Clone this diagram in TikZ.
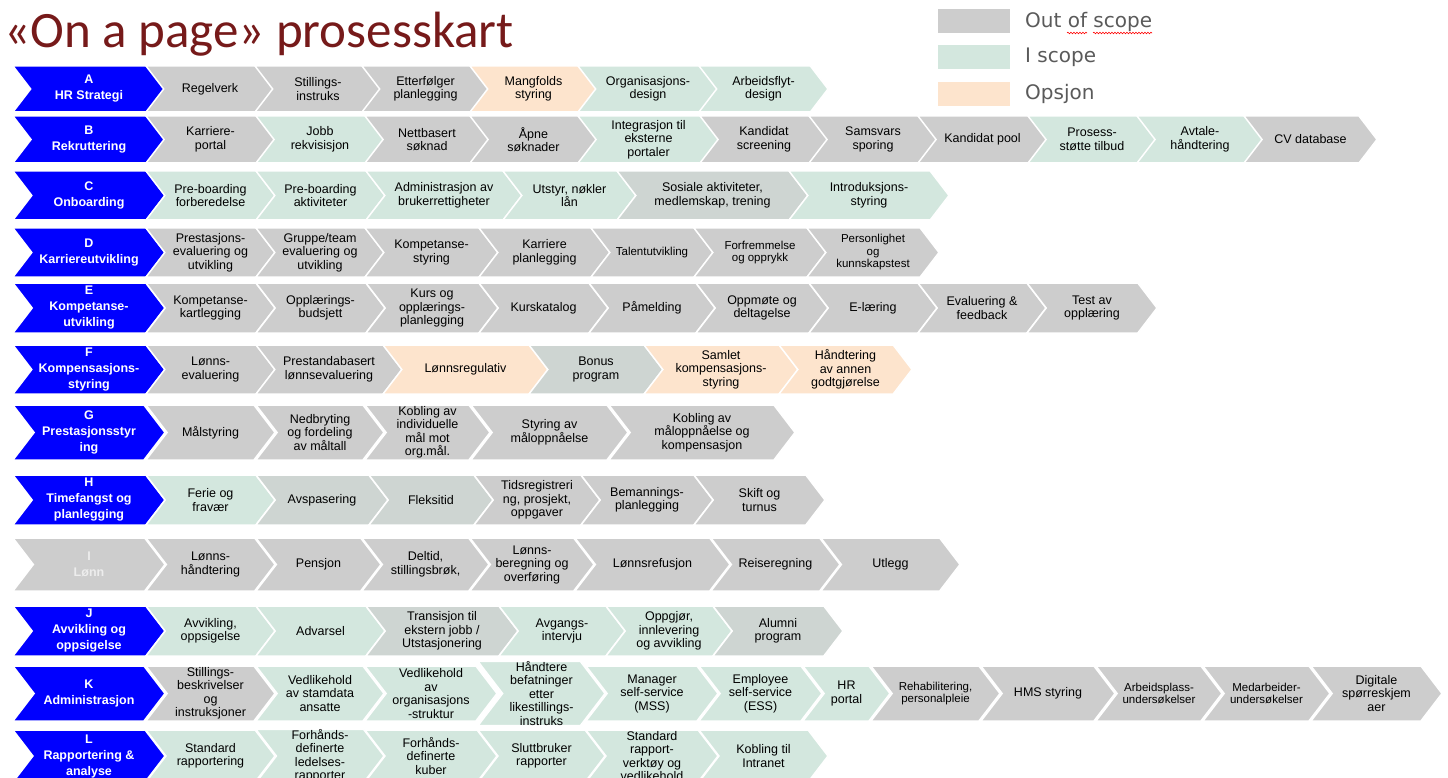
\documentclass[tikz,border=0pt]{standalone}
\usepackage{fontspec}
\setmainfont{Liberation Sans}
\newfontfamily\titlefont{Carlito}
\newfontfamily\legendfont{DejaVu Sans}
\usetikzlibrary{shapes.symbols,decorations.pathmorphing}

\definecolor{hrblue}{RGB}{0,0,255}
\definecolor{outgray}{RGB}{205,205,205}
\definecolor{ingreen}{RGB}{211,231,222}
\definecolor{opspeach}{RGB}{253,228,205}
\definecolor{mixgray}{RGB}{206,213,210}
\definecolor{titlered}{RGB}{118,26,26}
\definecolor{legendgray}{RGB}{90,90,90}

\tikzset{
  chev/.style={signal, signal from=west, signal to=east, signal pointer angle=105,
    draw=white, line width=1.5pt, inner sep=0pt, align=center, text=black,
    font=\fontsize{12.5}{13.5}\selectfont},
  hdr/.style={chev, fill=hrblue, text=white, minimum width=152,
    font=\fontsize{12.5}{16}\selectfont\bfseries},
  outs/.style={chev, fill=outgray},
  ins/.style={chev, fill=ingreen},
  ops/.style={chev, fill=opspeach},
  mix/.style={chev, fill=mixgray},
  smalltxt/.style={font=\fontsize{11.5}{12.5}\selectfont},
  swatch/.style={rectangle, minimum width=72, minimum height=24, inner sep=0pt},
  legtxt/.style={anchor=base west, text=legendgray, inner sep=0pt,
    font=\legendfont\fontsize{20}{24}\selectfont},
}

\begin{document}
\begin{tikzpicture}[x=1pt, y=-1pt]
\useasboundingbox (0,0) rectangle (1448,778);
\clip (0,0) rectangle (1448,778);

% title and legend
\node[anchor=base west, inner sep=0pt, text=titlered, font=\titlefont\fontsize{51}{51}\selectfont] (title) at (4,48) {«On a page» prosesskart};
\node[swatch, fill=outgray] (sw1) at (974,21) {};
\node[swatch, fill=ingreen] (sw2) at (974,57) {};
\node[swatch, fill=opspeach] (sw3) at (974,94.5) {};
\node[legtxt] (lg1) at (1025,27.5) {Out of scope};
\node[legtxt] (lg2) at (1025,63) {I scope};
\node[legtxt] (lg3) at (1025,100) {Opsjon};
\draw[red, line width=0.6pt, decorate, decoration={snake, amplitude=0.8pt, segment length=3pt}] (1067,33) -- (1087,33);
\draw[red, line width=0.6pt, decorate, decoration={snake, amplitude=0.8pt, segment length=3pt}] (1093,33) -- (1152,33);

% A HR Strategi
\begin{scope}[minimum height=46]
\node[hdr] (hA) at (89,89) {A\\HR Strategi};
\node[outs, minimum width=128] (a1) at (210,89) {Regelverk};
\node[outs, minimum width=126] (a2) at (318,89) {Stillings-\\instruks};
\node[outs, minimum width=127] (a3) at (425.5,89) {Etterfølger\\planlegging};
\node[ops, minimum width=127] (a4) at (533.5,89) {Mangfolds\\styring};
\node[ins, minimum width=140] (a5) at (648,89) {Organisasjons-\\design};
\node[ins, minimum width=129] (a6) at (763.5,89) {Arbeidsflyt-\\design};
\end{scope}

% B Rekruttering
\begin{scope}[minimum height=47]
\node[hdr] (hB) at (89,139.5) {B\\Rekruttering};
\node[outs, minimum width=129] (b1) at (210.5,139.5) {Karriere-\\portal};
\node[ins, minimum width=128] (b2) at (320,139.5) {Jobb\\rekvisisjon};
\node[outs, minimum width=124] (b3) at (427,139.5) {Nettbasert\\søknad};
\node[outs, minimum width=127] (b4) at (533.5,139.5) {Åpne\\søknader};
\node[ins, minimum width=141] (b5) at (648.5,139.5) {Integrasjon til\\eksterne\\portaler};
\node[outs, minimum width=128] (b6) at (764,139.5) {Kandidat\\screening};
\node[outs, minimum width=128] (b7) at (873,139.5) {Samsvars\\sporing};
\node[outs, minimum width=129] (b8) at (982.5,139.5) {Kandidat pool};
\node[ins, minimum width=128] (b9) at (1092,139.5) {Prosess-\\støtte tilbud};
\node[ins, minimum width=126] (b10) at (1200,139.5) {Avtale-\\håndtering};
\node[outs, minimum width=133] (b11) at (1310.5,139.5) {CV database};
\end{scope}

% C Onboarding
\begin{scope}[minimum height=49]
\node[hdr] (hC) at (89,195.5) {C\\Onboarding};
\node[ins, minimum width=129] (c1) at (210.5,195.5) {Pre-boarding\\forberedelse};
\node[ins, minimum width=129] (c2) at (320.5,195.5) {Pre-boarding\\aktiviteter};
\node[ins, minimum width=156] (c3) at (444,195.5) {Administrasjon av\\brukerrettigheter};
\node[ins, minimum width=133] (c4) at (569.5,195.5) {Utstyr, nøkler\\lån};
\node[mix, minimum width=191] (c5) at (712.5,195.5) {Sosiale aktiviteter,\\medlemskap, trening};
\node[ins, minimum width=160] (c6) at (869,195.5) {Introduksjons-\\styring};
\end{scope}

% D Karriereutvikling
\begin{scope}[minimum height=49]
\node[hdr] (hD) at (89,252.5) {D\\Karriereutvikling};
\node[outs, minimum width=129] (d1) at (210.5,252.5) {Prestasjons-\\evaluering og\\utvikling};
\node[outs, minimum width=128] (d2) at (320,252.5) {Gruppe/team\\evaluering og\\utvikling};
\node[outs, minimum width=133] (d3) at (431.5,252.5) {Kompetanse-\\styring};
\node[outs, minimum width=131] (d4) at (544.5,252.5) {Karriere\\planlegging};
\node[outs, smalltxt, minimum width=122] (d5) at (652,252.5) {Talentutvikling};
\node[outs, smalltxt, minimum width=132] (d6) at (760,252.5) {Forfremmelse\\og opprykk};
\node[outs, smalltxt, minimum width=132] (d7) at (873,252.5) {Personlighet\\og\\kunnskapstest};
\end{scope}

% E Kompetanseutvikling
\begin{scope}[minimum height=50]
\node[hdr] (hE) at (89,308) {E\\Kompetanse-\\utvikling};
\node[outs, minimum width=129] (e1) at (210.5,308) {Kompetanse-\\kartlegging};
\node[outs, minimum width=129] (e2) at (320.5,308) {Opplærings-\\budsjett};
\node[outs, minimum width=132] (e3) at (432,308) {Kurs og\\opplærings-\\planlegging};
\node[outs, minimum width=129] (e4) at (543.5,308) {Kurskatalog};
\node[outs, minimum width=126] (e5) at (652,308) {Påmelding};
\node[outs, minimum width=132] (e6) at (762,308) {Oppmøte og\\deltagelse};
\node[outs, minimum width=128] (e7) at (873,308) {E-læring};
\node[outs, minimum width=128] (e8) at (982,308) {Evaluering \&\\feedback};
\node[outs, minimum width=130] (e9) at (1092,308) {Test av\\opplæring};
\end{scope}

% F Kompensasjonsstyring
\begin{scope}[minimum height=49]
\node[hdr] (hF) at (89,369.5) {F\\Kompensasjons-\\styring};
\node[outs, minimum width=129] (f1) at (210.5,369.5) {Lønns-\\evaluering};
\node[outs, minimum width=146] (f2) at (329,369.5) {Prestandabasert\\lønnsevaluering};
\node[ops, minimum width=165] (f3) at (465.5,369.5) {Lønnsregulativ};
\node[mix, minimum width=134] (f4) at (596,369.5) {Bonus\\program};
\node[ops, minimum width=154] (f5) at (721,369.5) {Samlet\\kompensasjons-\\styring};
\node[ops, minimum width=133] (f6) at (845.5,369.5) {Håndtering\\av annen\\godtgjørelse};
\end{scope}

% G Prestasjonsstyring
\begin{scope}[minimum height=55]
\node[hdr] (hG) at (89,432.5) {G\\Prestasjonsstyr\\ing};
\node[outs, minimum width=129] (g1) at (210.5,432.5) {Målstyring};
\node[outs, minimum width=128] (g2) at (320,432.5) {Nedbryting\\og fordeling\\av måltall};
\node[outs, minimum width=125] (g3) at (427.5,432.5) {Kobling av\\individuelle\\mål mot\\org.mål.};
\node[outs, minimum width=157] (g4) at (549.5,432.5) {Styring av\\måloppnåelse};
\node[outs, minimum width=186] (g5) at (702,432.5) {Kobling av\\måloppnåelse og\\kompensasjon};
\end{scope}

% H Timefangst og planlegging
\begin{scope}[minimum height=50]
\node[hdr] (hH) at (89,500) {H\\Timefangst og\\planlegging};
\node[ins, minimum width=129] (h1) at (210.5,500) {Ferie og\\fravær};
\node[mix, minimum width=132] (h2) at (322,500) {Avspasering};
\node[mix, minimum width=124] (h3) at (431,500) {Fleksitid};
\node[outs, minimum width=126] (h4) at (537,500) {Tidsregistreri\\ng, prosjekt,\\oppgaver};
\node[outs, minimum width=132] (h5) at (647,500) {Bemannings-\\planlegging};
\node[outs, minimum width=131] (h6) at (759.5,500) {Skift og\\turnus};
\end{scope}

% I Lønn
\begin{scope}[minimum height=53]
\node[hdr, fill=outgray, text=white!93!black] (hI) at (89,564.5) {I\\Lønn};
\node[outs, minimum width=129] (i1) at (210.5,564.5) {Lønns-\\håndtering};
\node[outs, minimum width=125] (i2) at (318.5,564.5) {Pensjon};
\node[outs, minimum width=127] (i3) at (425.5,564.5) {Deltid,\\stillingsbrøk,};
\node[outs, minimum width=124] (i4) at (532,564.5) {Lønns-\\beregning og\\overføring};
\node[outs, minimum width=155] (i5) at (652.5,564.5) {Lønnsrefusjon};
\node[outs, minimum width=129] (i6) at (775.5,564.5) {Reiseregning};
\node[outs, minimum width=139] (i7) at (890.5,564.5) {Utlegg};
\end{scope}

% J Avvikling og oppsigelse
\begin{scope}[minimum height=50]
\node[hdr] (hJ) at (89,631) {J\\Avvikling og\\oppsigelse};
\node[ins, minimum width=129] (j1) at (210.5,631) {Avvikling,\\oppsigelse};
\node[ins, minimum width=129] (j2) at (320.5,631) {Advarsel};
\node[mix, minimum width=152] (j3) at (442,631) {Transisjon til\\ekstern jobb /\\Utstasjonering};
\node[ins, minimum width=126] (j4) at (562,631) {Avgangs-\\intervju};
\node[ins, minimum width=126] (j5) at (669,631) {Oppgjør,\\innlevering\\og avvikling};
\node[mix, minimum width=130] (j6) at (778,631) {Alumni\\program};
\end{scope}

% K Administrasjon
\begin{scope}[minimum height=55]
\node[hdr] (hK) at (89,693.5) {K\\Administrasjon};
\node[outs, minimum width=129] (k1) at (210.5,693.5) {Stillings-\\beskrivelser\\og\\instruksjoner};
\node[ins, minimum width=128] (k2) at (320,693.5) {Vedlikehold\\av stamdata\\ansatte};
\node[ins, minimum width=132] (k3) at (431,693.5) {Vedlikehold\\av\\organisasjons\\-struktur};
\node[ins, minimum width=127] (k4) at (541.5,693.5) {Håndtere\\befatninger\\etter\\likestillings-\\instruks};
\node[ins, minimum width=132] (k5) at (652,693.5) {Manager\\self-service\\(MSS)};
\node[ins, minimum width=123] (k6) at (760.5,693.5) {Employee\\self-service\\(ESS)};
\node[ins, minimum width=87] (k7) at (846.5,693.5) {HR\\portal};
\node[outs, smalltxt, minimum width=129] (k8) at (935.5,693.5) {Rehabilitering,\\personalpleie};
\node[outs, minimum width=134] (k9) at (1048,693.5) {HMS styring};
\node[outs, smalltxt, minimum width=126] (k10) at (1159,693.5) {Arbeidsplass-\\undersøkelser};
\node[outs, smalltxt, minimum width=127] (k11) at (1266.5,693.5) {Medarbeider-\\undersøkelser};
\node[outs, minimum width=131] (k12) at (1376.5,693.5) {Digitale\\spørreskjem\\aer};
\end{scope}

% L Rapportering og analyse
\begin{scope}[minimum height=52]
\node[hdr] (hL) at (89,756) {L\\Rapportering \&\\analyse};
\node[ins, minimum width=129] (l1) at (210.5,756) {Standard\\rapportering};
\node[ins, minimum width=128] (l2) at (320,756) {Forhånds-\\definerte\\ledelses-\\rapporter};
\node[ins, minimum width=132] (l3) at (431,756) {Forhånds-\\definerte\\kuber};
\node[ins, minimum width=127] (l4) at (541.5,756) {Sluttbruker\\rapporter};
\node[ins, minimum width=132] (l5) at (652,756) {Standard\\rapport-\\verktøy og\\vedlikehold};
\node[ins, minimum width=129] (l6) at (763.5,756) {Kobling til\\Intranet};
\end{scope}
\end{tikzpicture}
\end{document}
